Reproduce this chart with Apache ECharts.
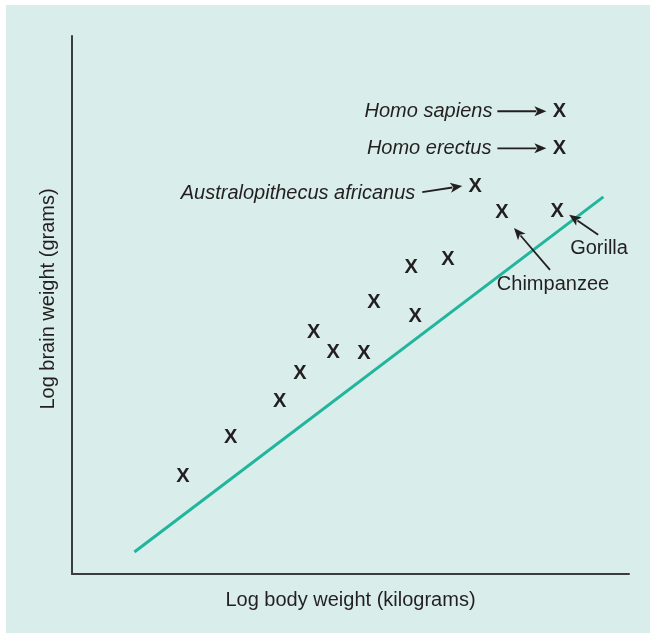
<!DOCTYPE html>
<html>
<head>
<meta charset="utf-8">
<script src="https://cdn.jsdelivr.net/npm/echarts@6/dist/echarts.min.js"></script>
<style>
  html, body { margin: 0; padding: 0; background: #ffffff; }
  #bg { position: absolute; left: 6px; top: 5px; width: 644px; height: 628px; background: #d9eeea; }
  #chart { position: absolute; left: 0; top: 0; width: 650px; height: 633px; }
</style>
</head>
<body>
<div id="bg"></div>
<div id="chart"></div>
<script>
// Log body weight (x) and log brain weight (y), arbitrary log units
const bodyWeight  = [1.99, 2.85, 3.73, 4.09, 4.34, 4.69, 5.24, 5.42, 6.09, 6.16, 6.75, 7.24, 7.72, 8.71, 8.75, 8.75];
const brainWeight = [1.84, 2.55, 3.22, 3.75, 4.50, 4.13, 4.11, 5.06, 5.72, 4.81, 5.87, 7.23, 6.73, 6.75, 7.93, 8.62];
const speciesNames = ['', '', '', '', '', '', '', '', '', '', '',
  'Australopithecus africanus', 'Chimpanzee', 'Gorilla', 'Homo erectus', 'Homo sapiens'];
// Reference line (primate trend)
const lineX = [1.12, 9.54];
const lineY = [0.41, 7.01];

const xAxisName = 'Log body weight (kilograms)';
const yAxisName = 'Log brain weight (grams)';

// Annotation layout (pixel offsets relative to the marked point) — styling only
const annoLayout = {
  'Homo sapiens':               { from: [-62, 1], to: [-13, 1], text: [-67, 1], align: 'right', italic: true },
  'Homo erectus':               { from: [-62, 1], to: [-13, 1], text: [-68, 1], align: 'right', italic: true },
  'Australopithecus africanus': { from: [-53, 7], to: [-13, 1], text: [-60, 8], align: 'right', italic: true },
  'Chimpanzee':                 { from: [48, 58], to: [12, 16], text: [51, 73], align: 'center', italic: false },
  'Gorilla':                    { from: [41, 24], to: [12, 4], text: [13, 38], align: 'left', italic: false }
};

const FONT = '"Liberation Sans", Arial, sans-serif';
const TXT = '#231f20';

const points = bodyWeight.map((x, i) => [x, brainWeight[i], speciesNames[i]]);
const annotated = points.filter(p => p[2]);

const chart = echarts.init(document.getElementById('chart'));
chart.setOption({
  backgroundColor: 'transparent',
  animation: false,
  grid: { left: 72, right: 21, top: 36, bottom: 59 },
  xAxis: {
    type: 'value', min: 0, max: 10,
    name: xAxisName, nameLocation: 'middle', nameGap: 16,
    nameTextStyle: { fontFamily: FONT, fontSize: 20, color: TXT },
    axisLine: { show: true, onZero: false, lineStyle: { color: '#3c3c3c', width: 2 } },
    axisTick: { show: false }, axisLabel: { show: false }, splitLine: { show: false }
  },
  yAxis: {
    type: 'value', min: 0, max: 10,
    name: yAxisName, nameLocation: 'middle', nameGap: 14,
    nameTextStyle: { fontFamily: FONT, fontSize: 20, color: TXT, padding: [0, 0, 0, 12] },
    axisLine: { show: true, onZero: false, lineStyle: { color: '#3c3c3c', width: 2 } },
    axisTick: { show: false }, axisLabel: { show: false }, splitLine: { show: false }
  },
  series: [
    {
      type: 'line',
      data: lineX.map((x, i) => [x, lineY[i]]),
      symbol: 'none',
      lineStyle: { color: '#22b59d', width: 3 },
      z: 1
    },
    {
      type: 'custom',
      data: points,
      z: 3,
      renderItem: function (params, api) {
        const c = api.coord([api.value(0), api.value(1)]);
        return {
          type: 'text', x: c[0], y: c[1] + 1,
          style: { text: 'X', fill: TXT, fontFamily: FONT, fontSize: 20, fontWeight: 'bold',
                   align: 'center', verticalAlign: 'middle' }
        };
      }
    },
    {
      type: 'custom',
      data: annotated,
      z: 4,
      renderItem: function (params, api) {
        const p = annotated[params.dataIndex];
        const c = api.coord([p[0], p[1]]);
        const L = annoLayout[p[2]];
        const x1 = c[0] + L.from[0], y1 = c[1] + L.from[1];
        const x2 = c[0] + L.to[0], y2 = c[1] + L.to[1];
        const ang = Math.atan2(y2 - y1, x2 - x1);
        const hl = 12, hw = 5;
        const bx = x2 - hl * Math.cos(ang), by = y2 - hl * Math.sin(ang);
        const nx = -Math.sin(ang), ny = Math.cos(ang);
        return {
          type: 'group',
          children: [
            { type: 'line', shape: { x1: x1, y1: y1, x2: bx + 2 * Math.cos(ang), y2: by + 2 * Math.sin(ang) },
              style: { stroke: '#231f20', lineWidth: 1.8 } },
            { type: 'polygon', shape: { points: [[x2, y2], [bx + nx * hw, by + ny * hw], [bx + 3 * Math.cos(ang), by + 3 * Math.sin(ang)], [bx - nx * hw, by - ny * hw]] },
              style: { fill: '#231f20' } },
            { type: 'text', x: c[0] + L.text[0], y: c[1] + L.text[1],
              style: { text: p[2], fill: TXT, fontFamily: FONT, fontSize: 20,
                       fontStyle: L.italic ? 'italic' : 'normal',
                       align: L.align, verticalAlign: 'middle' } }
          ]
        };
      }
    }
  ]
});
</script>
</body>
</html>
